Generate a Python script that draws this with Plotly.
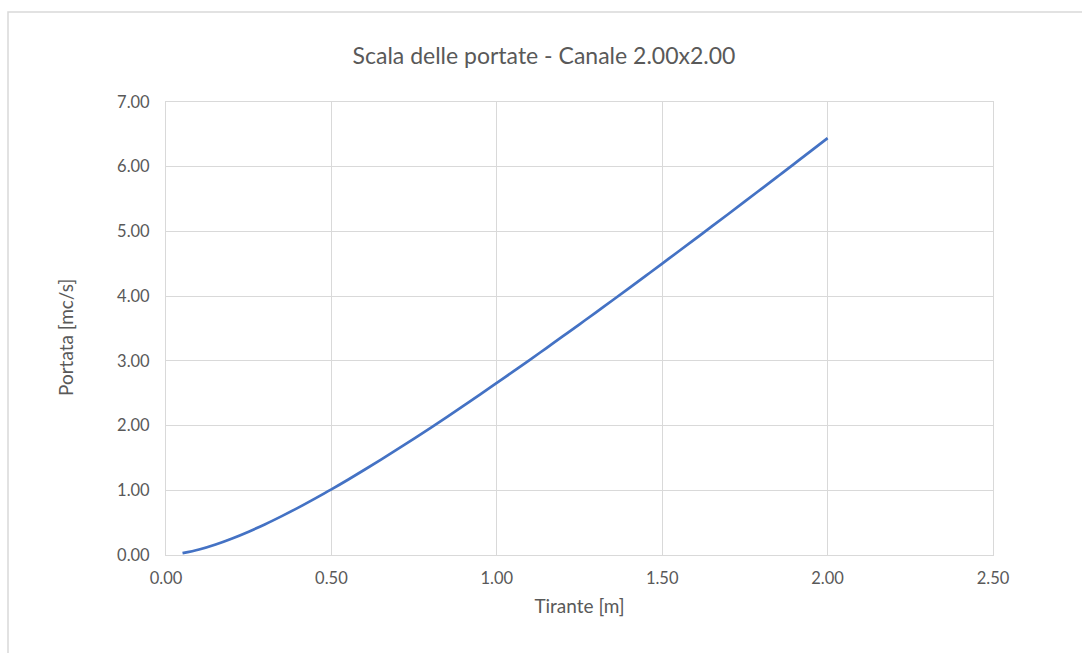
import plotly.graph_objects as go

# Water depth [m] and discharge [m3/s] for the 2.00 x 2.00 channel
tirante = [0.05, 0.10, 0.15, 0.20, 0.25, 0.30, 0.35, 0.40, 0.45, 0.50,
           0.55, 0.60, 0.65, 0.70, 0.75, 0.80, 0.85, 0.90, 0.95, 1.00,
           1.05, 1.10, 1.15, 1.20, 1.25, 1.30, 1.35, 1.40, 1.45, 1.50,
           1.55, 1.60, 1.65, 1.70, 1.75, 1.80, 1.85, 1.90, 1.95, 2.00]
portata = [0.028, 0.085, 0.163, 0.256, 0.361, 0.476, 0.601, 0.732, 0.871, 1.014,
           1.163, 1.317, 1.474, 1.635, 1.799, 1.966, 2.136, 2.308, 2.482, 2.659,
           2.837, 3.016, 3.198, 3.381, 3.565, 3.750, 3.937, 4.124, 4.313, 4.503,
           4.694, 4.885, 5.077, 5.270, 5.464, 5.658, 5.853, 6.048, 6.244, 6.441]

x_ticks = [0.0, 0.5, 1.0, 1.5, 2.0, 2.5]
y_ticks = [0, 1, 2, 3, 4, 5, 6, 7]

FONT = "Lato, 'Open Sans', sans-serif"
GREY_TEXT = "#595959"
GRID = "#d9d9d9"

W, H = 1082, 653
ML, MR, MT, MB = 166, 89, 102, 98
pw = W - ML - MR
ph = H - MT - MB

fig = go.Figure()
fig.add_trace(go.Scatter(
    x=tirante, y=portata, mode="lines",
    line=dict(color="#4472C4", width=2.7, shape="spline"),
    showlegend=False, hoverinfo="x+y",
))

axis_common = dict(
    showgrid=True, gridcolor=GRID, gridwidth=1,
    showline=True, linecolor=GRID, linewidth=1, mirror=True,
    zeroline=False, ticks="outside", tickcolor="rgba(0,0,0,0)",
    tickfont=dict(family=FONT, size=16.5, color=GREY_TEXT),
    title_font=dict(family=FONT, size=19, color=GREY_TEXT),
)

fig.update_xaxes(
    range=[0, 2.5], tickvals=x_ticks, tickformat=".2f", ticklen=8,
    title_text="Tirante [m]", title_standoff=12, **axis_common,
)
fig.update_yaxes(
    range=[0, 7], tickvals=y_ticks, tickformat=".2f", ticklen=12,
    **axis_common,
)

# y-axis title, placed slightly below the plot's vertical centre
fig.add_annotation(
    text="Portata [mc/s]", textangle=-90, showarrow=False,
    xref="paper", yref="paper",
    x=(65 - ML) / pw, xanchor="center",
    y=(H - MB - 338) / ph, yanchor="middle",
    font=dict(family=FONT, size=19, color=GREY_TEXT),
)

# outer chart-area frame
fig.add_shape(
    type="rect", xref="paper", yref="paper",
    x0=(8 - ML) / pw, x1=(W + 20 - ML) / pw,
    y0=(H - MB - (H + 20)) / ph, y1=(H - MB - 12) / ph,
    line=dict(color=GRID, width=1.5), fillcolor="rgba(0,0,0,0)", layer="below",
)

fig.update_layout(
    width=W, height=H,
    margin=dict(l=ML, r=MR, t=MT, b=MB),
    paper_bgcolor="white", plot_bgcolor="white",
    title=dict(
        text="Scala delle portate - Canale 2.00x2.00",
        x=544 / W, xanchor="center", xref="container",
        y=1 - 56 / H, yanchor="middle", yref="container",
        font=dict(family=FONT, size=23, color=GREY_TEXT),
    ),
)

fig.write_html("out.html")
